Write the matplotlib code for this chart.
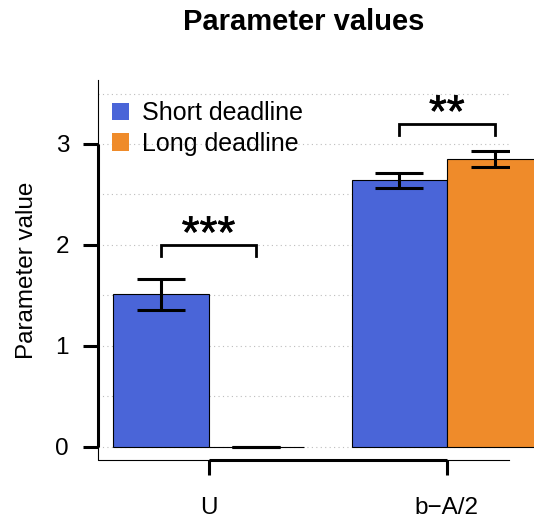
import numpy as np
import matplotlib
matplotlib.use("Agg")
import matplotlib.pyplot as plt
import matplotlib.patheffects as pe
from matplotlib.patches import Patch

plt.rcParams['font.family'] = ['Liberation Sans', 'DejaVu Sans']

# data
params = ['U', 'b\u2212A/2']
short_vals = [1.51, 2.64]
short_err = [0.155, 0.077]
long_vals = [0.0, 2.85]
long_err = [0.0, 0.078]
sig_labels = ['***', '**']
sig_y = [2.0, 3.2]

blue = '#4a65d8'
orange = '#ef8b2a'

fig = plt.figure(figsize=(5.34, 5.18), dpi=100)
ax = fig.add_axes([98/534, 58/518, 411/534, 380/518])

centers = np.array([1.0, 3.5])
xs = centers - 0.5
xl = centers + 0.5

# dotted grid
for g in np.arange(0, 3.51, 0.5):
    ax.axhline(g, color='#bdbdbd', lw=0.8, ls=(0, (1, 3)), zorder=0)

ax.bar(xs, short_vals, width=1, color=blue, edgecolor='k', lw=0.8,
       clip_on=False, zorder=2, label='Short deadline')
ax.bar(xl, long_vals, width=1, color=orange, edgecolor='k', lw=0.8,
       clip_on=False, zorder=2, label='Long deadline')
ax.errorbar(xs, short_vals, yerr=short_err, fmt='none', ecolor='k',
            elinewidth=2.2, capsize=17.6, capthick=2.2, zorder=3)
ax.errorbar(xl, long_vals, yerr=long_err, fmt='none', ecolor='k',
            elinewidth=2.2, capsize=17.6, capthick=2.2, zorder=3)

# significance brackets
for i in range(len(params)):
    y = sig_y[i]
    ax.plot([xs[i], xs[i], xl[i], xl[i]], [y - 0.11, y, y, y - 0.11],
            color='k', lw=2.0, solid_joinstyle='miter', zorder=4)
    ax.text(centers[i], y - 0.03, sig_labels[i], ha='center', va='baseline',
            fontsize=33, zorder=4,
            path_effects=[pe.withStroke(linewidth=0.5, foreground='k')])

ax.set_xlim(-0.16, 4.152)
ax.set_ylim(-0.132, 3.634)

for s in ['top', 'right']:
    ax.spines[s].set_visible(False)
ax.spines['left'].set_bounds(0, 3)
ax.spines['bottom'].set_bounds(centers[0], centers[1])
ax.spines['left'].set_linewidth(2.2)
ax.spines['bottom'].set_linewidth(2.2)
ax.spines['left'].set_capstyle('butt')
ax.spines['bottom'].set_capstyle('butt')
# thin L box
ax.plot([0, 0, 1], [1, 0, 0], transform=ax.transAxes, color='k', lw=0.8,
        clip_on=False, zorder=1)

ax.set_yticks([0, 1, 2, 3])
ax.set_xticks(centers)
ax.set_xticklabels(params)
ax.tick_params(axis='y', length=10.8, width=2.2, pad=10, labelsize=17.5)
ax.tick_params(axis='x', length=10.8, width=2.2, pad=16, labelsize=17.5)

ax.set_ylabel('Parameter value', fontsize=17.5)
ax.yaxis.set_label_coords(-0.145, 0.5)
ax.set_title('Parameter values', fontsize=21, fontweight='bold', pad=36)

handles = [Patch(facecolor=blue, edgecolor='none', label='Short deadline'),
           Patch(facecolor=orange, edgecolor='none', label='Long deadline')]
ax.legend(handles=handles, loc='upper left', bbox_to_anchor=(0.034, 0.944),
          frameon=False, borderaxespad=0, borderpad=0, fontsize=18,
          handlelength=0.7, handleheight=0.7, handletextpad=0.5,
          labelspacing=0.25)

fig.savefig('out.png', dpi=100)
